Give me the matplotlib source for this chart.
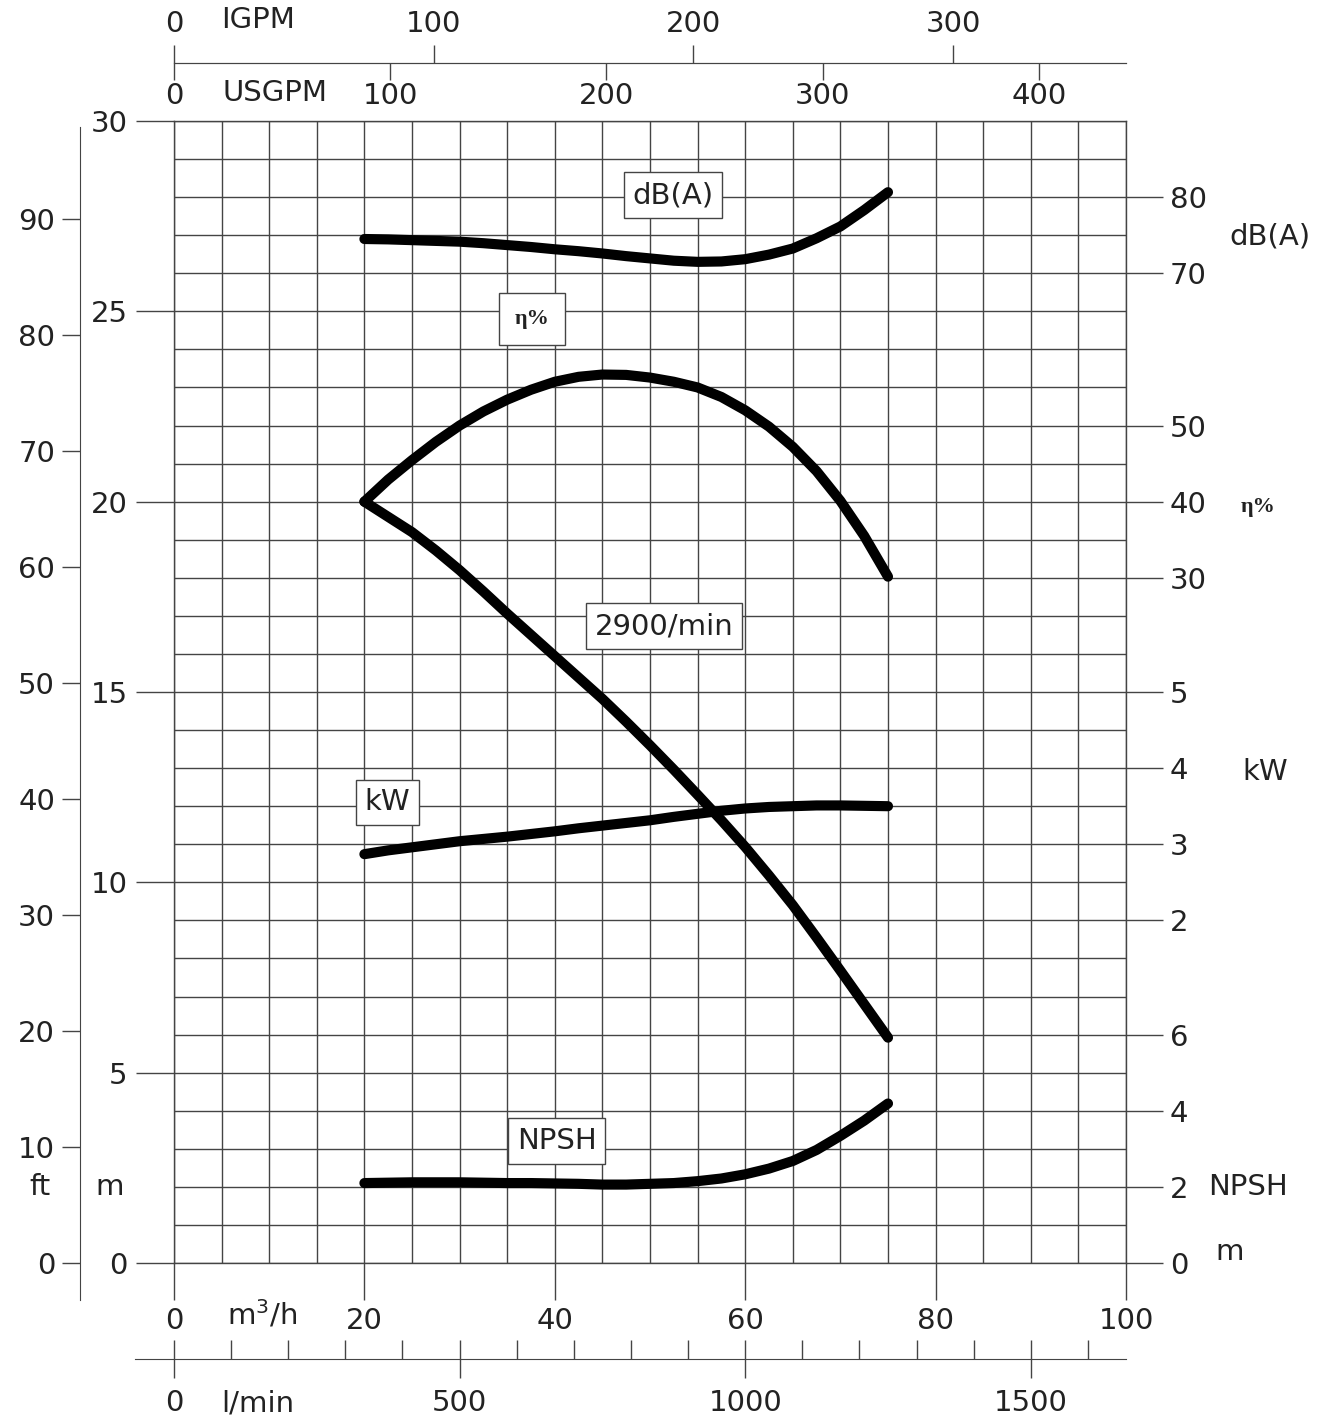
import matplotlib
matplotlib.use("Agg")
import matplotlib.pyplot as plt
from matplotlib.ticker import MultipleLocator, FixedLocator

# pump curve, flow in m3/h
flow = [20, 22.5, 25, 27.5, 30, 32.5, 35, 37.5, 40, 42.5, 45, 47.5,
        50, 52.5, 55, 57.5, 60, 62.5, 65, 67.5, 70, 72.5, 75]
head = [20.0, 19.6, 19.2, 18.72, 18.2, 17.64, 17.06, 16.5, 15.94, 15.38, 14.82, 14.22,
        13.6, 12.96, 12.3, 11.63, 10.93, 10.18, 9.4, 8.55, 7.68, 6.8, 5.92]  # m
efficiency = [40, 42.9, 45.45, 47.85, 50, 51.85, 53.4, 54.7, 55.75, 56.4, 56.7, 56.65,
              56.3, 55.75, 55.0, 53.75, 52.0, 49.85, 47.2, 44.0, 40.1, 35.5, 30.15]  # %
power = [2.87, 2.92, 2.96, 3.0, 3.04, 3.07, 3.1, 3.135, 3.17, 3.21, 3.245, 3.28,
         3.315, 3.36, 3.4, 3.44, 3.47, 3.49, 3.5, 3.51, 3.51, 3.505, 3.5]  # kW
noise = [74.5, 74.45, 74.35, 74.25, 74.15, 73.95, 73.7, 73.45, 73.15, 72.9, 72.6, 72.25,
         71.95, 71.65, 71.5, 71.55, 71.85, 72.45, 73.25, 74.6, 76.15, 78.3, 80.65]  # dB(A)
npsh = [2.1, 2.11, 2.12, 2.12, 2.12, 2.11, 2.1, 2.1, 2.09, 2.08, 2.06, 2.06,
        2.08, 2.1, 2.15, 2.22, 2.33, 2.48, 2.68, 2.97, 3.34, 3.74, 4.19]  # m

head_ticks = [0, 5, 10, 15, 20, 25, 30]
ft_ticks = list(range(0, 100, 10))
flow_ticks = [0, 20, 40, 60, 80, 100]
usgpm_ticks = [0, 100, 200, 300, 400]
igpm_ticks = [0, 100, 200, 300]
lmin_ticks = [0, 500, 1000, 1500]
noise_ticks = [70, 80]
eff_ticks = [30, 40, 50]
power_ticks = [2, 3, 4, 5]
npsh_ticks = [0, 2, 4, 6]

W, H = 1332, 1423
GRID = "#444444"
TXT = "#222222"
FS = 21

plt.rcParams["font.family"] = ["DejaVu Sans"]
plt.rcParams["font.size"] = FS
plt.rcParams["text.color"] = TXT
plt.rcParams["xtick.color"] = GRID
plt.rcParams["ytick.color"] = GRID
plt.rcParams["xtick.labelcolor"] = TXT
plt.rcParams["ytick.labelcolor"] = TXT

fig = plt.figure(figsize=(W / 100, H / 100), dpi=100)
ax = fig.add_axes([174 / W, 1 - 1263 / H, 952 / W, 1142 / H])
ax.set_xlim(0, 100)
ax.set_ylim(0, 30)
ax.xaxis.set_major_locator(FixedLocator(flow_ticks))
ax.xaxis.set_minor_locator(MultipleLocator(5))
ax.yaxis.set_major_locator(FixedLocator(head_ticks))
ax.yaxis.set_minor_locator(MultipleLocator(1))
ax.grid(which="both", color=GRID, lw=1.0)
ax.tick_params(which="minor", length=0)
ax.tick_params(axis="x", which="major", direction="out", length=26.6, width=1.0, pad=5)
ax.tick_params(axis="y", which="major", direction="out", length=27.4, width=1.0, pad=6)
for s in ax.spines.values():
    s.set_color(GRID)
    s.set_linewidth(1.0)

curve = dict(color="black", lw=7.3, solid_capstyle="round", solid_joinstyle="round", clip_on=False)
ax.plot(flow, head, **curve)


def twin(lo, hi, ticks):
    t = ax.twinx()
    t.set_ylim(lo, hi)
    t.yaxis.set_major_locator(FixedLocator(ticks))
    t.tick_params(axis="y", direction="out", length=26.6, width=1.0, pad=5)
    for s in t.spines.values():
        s.set_visible(False)
    return t


# right hand scales share the head grid
ax_db = twin(-60, 90, noise_ticks)
ax_db.plot(flow, noise, **curve)
ax_eta = twin(-60, 90, eff_ticks)
ax_eta.plot(flow, efficiency, **curve)
ax_kw = twin(-2.5, 12.5, power_ticks)
ax_kw.plot(flow, power, **curve)
ax_np = twin(0, 30, npsh_ticks)
ax_np.plot(flow, npsh, **curve)

# feet scale on the far left
ax_ft = ax.secondary_yaxis(-94 / 952, functions=(lambda m: m / 0.3048, lambda f: f * 0.3048))
ax_ft.yaxis.set_major_locator(FixedLocator(ft_ticks))
ax_ft.tick_params(direction="out", length=13, width=1.0, pad=5)
ax_ft.spines["left"].set_color(GRID)
ax_ft.spines["left"].set_bounds(-3.2, 97.9)

# gallons on top
top_loc = (1263 - 63) / 1142
ax_ig = ax.secondary_xaxis(top_loc, functions=(lambda q: q / 0.27277, lambda g: g * 0.27277))
ax_ig.xaxis.set_major_locator(FixedLocator(igpm_ticks))
ax_ig.tick_params(direction="out", length=13, width=1.0, pad=5)
ax_ig.spines["top"].set_color(GRID)

ax_us = ax.secondary_xaxis(top_loc, functions=(lambda q: q / 0.22712, lambda g: g * 0.22712))
ax_us.set_alignment("bottom")
ax_us.xaxis.set_major_locator(FixedLocator(usgpm_ticks))
ax_us.tick_params(direction="out", length=12, width=1.0, pad=2)
ax_us.spines["bottom"].set_color(GRID)

# litres per minute below
ax_l = ax.secondary_xaxis(-(1359 - 1263) / 1142, functions=(lambda q: q * 1000 / 60, lambda l: l * 60 / 1000))
ax_l.xaxis.set_major_locator(FixedLocator(lmin_ticks))
ax_l.xaxis.set_minor_locator(MultipleLocator(100))
ax_l.tick_params(which="major", direction="inout", length=27, width=1.0, pad=8)
ax_l.tick_params(which="minor", direction="in", length=13.7, width=1.0)
ax_l.spines["bottom"].set_color(GRID)
ax_l.spines["bottom"].set_bounds(-68, 1667)

# boxed curve names
box = dict(boxstyle="square,pad=0.3", fc="white", ec=GRID, lw=1.0)
ax.text(52.4, 28.05, "dB(A)", ha="center", va="center", bbox=box, zorder=5)
ax.text(51.5, 16.73, "2900/min", ha="center", va="center",
        bbox=dict(box, boxstyle="square,pad=0.3"), zorder=5)
ax.text(22.4, 12.1, "kW", ha="center", va="center", bbox=box, zorder=5)
ax.text(40.2, 3.2, "NPSH", ha="center", va="center", bbox=box, zorder=5)
ax_eta.text(37.6, 64.0, "η%", ha="center", va="center", fontsize=16, fontweight="bold",
            family=["Liberation Serif", "DejaVu Serif"],
            bbox=dict(boxstyle="square,pad=0.7", fc="white", ec=GRID, lw=1.0), zorder=5)


def put(px, py, s, **kw):
    fig.text(px / W, 1 - py / H, s, ha="center", va="center", **kw)


put(258, 20, "IGPM")
put(275, 93, "USGPM")
put(262, 1315, "m$^3$/h")
put(258, 1403, "l/min")
put(40, 1187, "ft")
put(110, 1187, "m")
put(1270, 236, "dB(A)")
put(1258, 507, "η%", fontsize=16, fontweight="bold", family=["Liberation Serif", "DejaVu Serif"])
put(1265, 772, "kW")
put(1248, 1187, "NPSH")
put(1230, 1252, "m")

fig.savefig("out.png", dpi=100)
